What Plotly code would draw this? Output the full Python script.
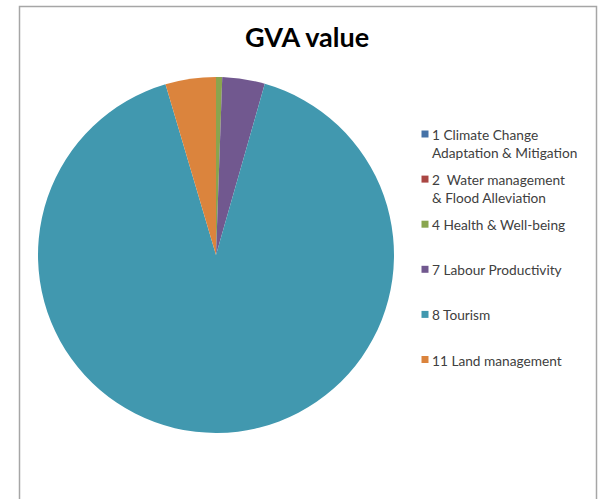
import plotly.graph_objects as go

# GVA value by benefit category (share of total, %)
labels = [
    "1 Climate Change<br>Adaptation & Mitigation",
    "2  Water management<br>& Flood Alleviation",
    "4 Health & Well-being",
    "7 Labour Productivity",
    "8 Tourism",
    "11 Land management",
]
values = [0.0, 0.0, 0.56, 3.86, 91.0, 4.58]
colors = ["#4572A7", "#AA4643", "#89A54E", "#71588F", "#4198AF", "#DB843D"]

W, H = 598, 499

fig = go.Figure(
    go.Pie(
        labels=labels,
        values=values,
        sort=False,
        direction="clockwise",
        rotation=0,
        textinfo="none",
        hoverinfo="label+value",
        marker=dict(colors=colors, line=dict(width=0)),
        domain=dict(x=[38 / W, 394 / W], y=[1 - 434 / H, 1 - 76 / H]),
        showlegend=False,
    )
)

# Legend drawn as swatches + labels, one entry per category
shapes = [
    dict(type="rect", xref="paper", yref="paper",
         x0=19.5 / W, x1=596.5 / W, y0=-0.05, y1=1 - 6.5 / H,
         line=dict(color="#A6A6A6", width=1.5), fillcolor="rgba(0,0,0,0)")
]
annotations = []
top, step = 134, 45.1
for i, (lab, col) in enumerate(zip(labels, colors)):
    yc = top + i * step
    shapes.append(dict(type="rect", xref="paper", yref="paper",
                       x0=421.5 / W, x1=428.5 / W,
                       y0=1 - (yc + 3.5) / H, y1=1 - (yc - 3.5) / H,
                       line=dict(width=0), fillcolor=col))
    annotations.append(dict(text=lab, xref="paper", yref="paper",
                            x=430 / W, y=1 - (yc - 10) / H,
                            xanchor="left", yanchor="top", align="left",
                            showarrow=False,
                            font=dict(family="Lato", size=13.7, color="#404040")))

annotations.append(dict(text="<b>GVA value</b>", xref="paper", yref="paper",
                        x=306.5 / W, y=1 - 37 / H, xanchor="center", yanchor="middle",
                        showarrow=False,
                        font=dict(family="Lato", size=27, color="#000000")))

fig.update_layout(
    width=W, height=H,
    margin=dict(l=0, r=0, t=0, b=0),
    paper_bgcolor="white",
    plot_bgcolor="white",
    shapes=shapes,
    annotations=annotations,
)

fig.write_html("out.html")
